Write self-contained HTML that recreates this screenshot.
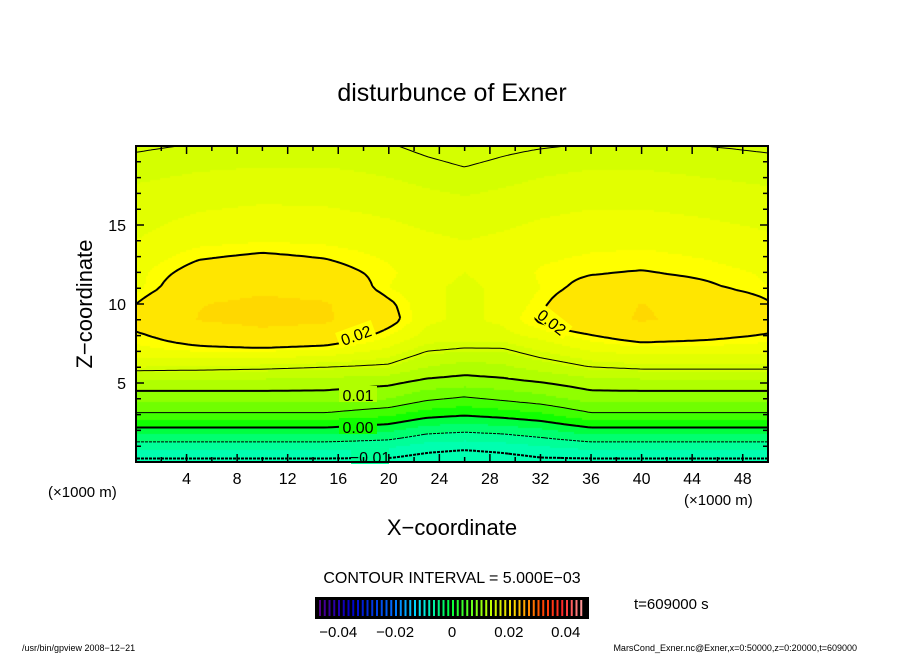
<!DOCTYPE html>
<html><head><meta charset="utf-8"><style>
body{margin:0;background:#fff;width:904px;height:654px;overflow:hidden;position:relative;font-family:"Liberation Sans",sans-serif}
svg{position:absolute;left:0;top:0}
canvas{position:absolute;left:136px;top:146px}
</style></head><body>
<canvas id="fill" width="632" height="316"></canvas>
<svg id="chart" width="904" height="654"></svg>
<script>
const xNodes=[0,5,10,15,20,23,26,29,32,36,40,45,50];
const zNodes=[0,1,2,3,4,5,6,7,8,9,10,11,12,14,16,18,20];
const row0=[-0.011,-0.011,-0.011,-0.011,-0.011,-0.012,-0.013,-0.012,-0.011,-0.011,-0.011,-0.011,-0.011];
const row1=[-0.0065,-0.0065,-0.0065,-0.0065,-0.007,-0.0085,-0.009,-0.0085,-0.0075,-0.0065,-0.0065,-0.0065,-0.0065];
const row2=[-0.001,-0.001,-0.001,-0.001,-0.002,-0.004,-0.0045,-0.004,-0.003,-0.001,-0.001,-0.001,-0.001];
const row3=[0.0045,0.0045,0.0045,0.0045,0.003,0.001,0.0003,0.001,0.002,0.0045,0.0045,0.0045,0.0045];
const row4=[0.0085,0.0085,0.0085,0.0085,0.0075,0.0055,0.0045,0.0055,0.0065,0.0085,0.0085,0.0085,0.0085];
const row5=[0.0115,0.0115,0.0115,0.0113,0.0105,0.009,0.0085,0.009,0.0098,0.0113,0.0115,0.0115,0.0115];
const row6=[0.016,0.0158,0.0155,0.015,0.0145,0.0125,0.0115,0.012,0.0135,0.015,0.0155,0.0155,0.0155];
const row7=[0.0185,0.019,0.019,0.0185,0.017,0.015,0.0145,0.0145,0.016,0.0175,0.018,0.018,0.018];
const row8=[0.0195,0.0218,0.0235,0.0225,0.019,0.017,0.0168,0.017,0.018,0.0198,0.0215,0.0208,0.0197];
const row9=[0.0215,0.0252,0.0264,0.0257,0.021,0.0178,0.0172,0.0178,0.0205,0.0235,0.0254,0.024,0.022];
const row10=[0.02,0.0248,0.0262,0.0254,0.0205,0.0178,0.0172,0.0178,0.0195,0.023,0.0251,0.0235,0.0203];
const row11=[0.0185,0.0225,0.024,0.023,0.019,0.0178,0.0172,0.0178,0.019,0.021,0.0218,0.0205,0.019];
const row12=[0.0185,0.021,0.0218,0.021,0.0193,0.018,0.0175,0.018,0.0192,0.0198,0.0201,0.0195,0.0188];
const row14=[0.0175,0.0185,0.0189,0.0187,0.0182,0.0178,0.0175,0.0178,0.0182,0.0185,0.0186,0.0183,0.0178];
const row16=[0.0168,0.0174,0.0177,0.0176,0.0172,0.0168,0.0165,0.0168,0.0172,0.0175,0.0175,0.0172,0.0168];
const row18=[0.0158,0.0162,0.0164,0.0164,0.016,0.0156,0.0153,0.0156,0.016,0.0163,0.0163,0.016,0.0157];
const row20=[0.0148,0.0151,0.0152,0.0152,0.0151,0.0147,0.0144,0.0147,0.0149,0.0151,0.0151,0.015,0.0148];
const rows=[row0,row1,row2,row3,row4,row5,row6,row7,row8,row9,row10,row11,row12,row14,row16,row18,row20];
const fillLevels=[-0.01,-0.0075,-0.005,-0.0025,0,0.0025,0.005,0.0075,0.01,0.0125,0.0145,0.016,0.0175,0.019,0.02,0.025];
const fillColors=["#00ffb0","#00ff98","#00ff70","#00ff40","#10ff00","#40ff00","#70ff00","#90ff00","#b0ff00","#c4ff00","#d4ff00","#e2ff00","#f0ff00","#ffff00","#ffe600","#ffd800"];
const contourLevels=[-0.01,-0.005,0,0.005,0.01,0.015,0.02];
const contourBold=[true,false,true,false,true,false,true];
const xTicks=[4,8,12,16,20,24,28,32,36,40,44,48];
const zTicks=[5,10,15];
const cbLabels=[-0.04,-0.02,0,0.02,0.04];

const X0=136,X1=768,Y0=462,Y1=146;
const sx=x=>X0+(x/50)*(X1-X0);
const sy=z=>Y0-(z/20)*(Y0-Y1);
function seg(arr,v){let i=0;while(i<arr.length-2&&v>arr[i+1])i++;return [i,(v-arr[i])/(arr[i+1]-arr[i])];}
function field(x,z){const [i,tx]=seg(xNodes,x);const [j,tz]=seg(zNodes,z);
 const a=rows[j][i],b=rows[j][i+1],c=rows[j+1][i],d=rows[j+1][i+1];
 return (a*(1-tx)+b*tx)*(1-tz)+(c*(1-tx)+d*tx)*tz;}
const ctx=document.getElementById('fill').getContext('2d');
const W=632,H=316,st=2;
for(let py=0;py<H;py+=st){for(let px=0;px<W;px+=st){
 const x=(px+st/2)/W*50,z=(H-py-st/2)/H*20;const v=field(x,z);
 let k=0;for(let l=0;l<fillLevels.length;l++){if(v>=fillLevels[l])k=l;}
 ctx.fillStyle=fillColors[k];
 ctx.fillRect(px,py,st,st);}}
const NS="http://www.w3.org/2000/svg";
const svg=document.getElementById('chart');
function mk(tag,attrs,parent){const e=document.createElementNS(NS,tag);for(const k in attrs)e.setAttribute(k,attrs[k]);(parent||svg).appendChild(e);return e;}
const cs=4,nx=Math.round(W/cs),nz=Math.round(H/cs);
const g=[];for(let j=0;j<=nz;j++){g[j]=[];for(let i=0;i<=nx;i++){g[j][i]=field(i/nx*50,j/nz*20);}}
contourLevels.forEach((lv,li)=>{
 let d="";
 for(let j=0;j<nz;j++)for(let i=0;i<nx;i++){
  const c=[[i,j,g[j][i]],[i+1,j,g[j][i+1]],[i+1,j+1,g[j+1][i+1]],[i,j+1,g[j+1][i]]];
  const pts=[];
  for(let e=0;e<4;e++){const p=c[e],q=c[(e+1)%4];
   if((p[2]<lv)!==(q[2]<lv)){const t=(lv-p[2])/(q[2]-p[2]);
    const xi=p[0]+(q[0]-p[0])*t,zj=p[1]+(q[1]-p[1])*t;
    pts.push([sx(xi/nx*50),sy(zj/nz*20)]);}}
  if(pts.length>=2)d+=`M${pts[0][0].toFixed(1)},${pts[0][1].toFixed(1)}L${pts[1][0].toFixed(1)},${pts[1][1].toFixed(1)}`;
  if(pts.length===4)d+=`M${pts[2][0].toFixed(1)},${pts[2][1].toFixed(1)}L${pts[3][0].toFixed(1)},${pts[3][1].toFixed(1)}`;
 }
 const p=mk('path',{d:d,fill:'none',stroke:'#000','stroke-width':contourBold[li]?2:1});
 if(lv<0)p.setAttribute('stroke-dasharray','3,2');
 
 
});
function lab(t,x,y,rot,bg){const gg=mk('g',{transform:`translate(${x},${y}) rotate(${rot})`});
 mk('rect',{x:-19,y:-9,width:38,height:16,fill:bg},gg);
 const tx=mk('text',{x:0,y:6,'text-anchor':'middle','font-size':16,fill:'#000'},gg);tx.textContent=t;
 
 }
lab('0.02',356,335,-20,'#ffff00');lab('0.02',552,322,38,'#ffff00');
lab('0.01',358,395,0,'#b0ff00');lab('0.00',358,427,0,'#10ff00');lab('−0.01',370,457,0,'#00ff98');
const fr=mk('rect',{x:X0,y:Y1,width:X1-X0,height:Y0-Y1,fill:'none',stroke:'#000','stroke-width':2});

let td="";
for(let x=2;x<50;x+=2){const L=(x%4===0)?8:5;td+=`M${sx(x)},${Y0}v${-L}M${sx(x)},${Y1}v${L}`;}
for(let z=1;z<20;z++){const L=(z%5===0)?8:5;td+=`M${X0},${sy(z)}h${L}M${X1},${sy(z)}h${-L}`;}
const tk=mk('path',{d:td,stroke:'#000','stroke-width':1.5});

xTicks.forEach(v=>{const t=mk('text',{x:sx(v),y:484,'text-anchor':'middle','font-size':16});t.textContent=v;
 });
zTicks.forEach(v=>{const t=mk('text',{x:126,y:sy(v)+6,'text-anchor':'end','font-size':16});t.textContent=v;
 });
const cbx0=316,cbx1=588,ncb=56;
const bg=mk('rect',{x:cbx0,y:598,width:cbx1-cbx0,height:20,fill:'#000'});

const stops=[[0,[80,0,140]],[0.12,[0,0,200]],[0.28,[0,110,255]],[0.38,[0,230,255]],[0.5,[0,255,60]],[0.65,[190,255,0]],[0.75,[255,210,0]],[0.85,[255,70,0]],[0.93,[255,40,40]],[1,[255,150,150]]];
function cmap(t){for(let i=0;i<stops.length-1;i++){if(t<=stops[i+1][0]){const f=(t-stops[i][0])/(stops[i+1][0]-stops[i][0]);const a=stops[i][1],b=stops[i+1][1];return `rgb(${a.map((v,k)=>Math.round(v+(b[k]-v)*f)).join(',')})`;}}return 'rgb(255,150,150)';}
for(let i=0;i<ncb;i++){const t=i/(ncb-1);
 const r=mk('rect',{x:cbx0+3+i*(cbx1-cbx0-6)/ncb,y:600,width:2,height:16,fill:cmap(t)});
 }
const cbs=v=>cbx0+8+(v+0.045)/0.09*(cbx1-cbx0-16);
cbLabels.forEach(v=>{const t=mk('text',{x:cbs(v),y:637,'text-anchor':'middle','font-size':15});t.textContent=v===0?'0':(v<0?'−':'')+Math.abs(v).toFixed(2);
 });
</script>
<svg width="904" height="654" style="pointer-events:none">
<text x="452" y="101" text-anchor="middle" font-size="25" font-family="Liberation Sans">disturbunce of Exner</text>
<text x="452" y="535" text-anchor="middle" font-size="22" font-family="Liberation Sans">X−coordinate</text>
<text transform="translate(92,304) rotate(-90)" text-anchor="middle" font-size="22" font-family="Liberation Sans">Z−coordinate</text>
<text x="48" y="497" font-size="15" font-family="Liberation Sans">(×1000 m)</text>
<text x="684" y="505" font-size="15" font-family="Liberation Sans">(×1000 m)</text>
<text x="452" y="583" text-anchor="middle" font-size="16" font-family="Liberation Sans">CONTOUR INTERVAL = 5.000E−03</text>
<rect x="316" y="598" width="272" height="20" fill="none" stroke="#000" stroke-width="2"/>
<text x="634" y="609" font-size="15" font-family="Liberation Sans">t=609000 s</text>
<text x="22" y="651" font-size="9" font-family="Liberation Sans">/usr/bin/gpview   2008−12−21</text>
<text x="857" y="651" text-anchor="end" font-size="9" font-family="Liberation Sans">MarsCond_Exner.nc@Exner,x=0:50000,z=0:20000,t=609000</text>
</svg>
</body></html>
